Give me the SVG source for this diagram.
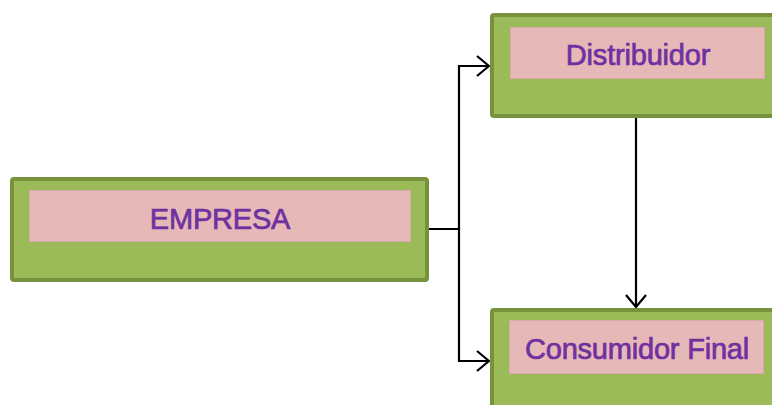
<svg xmlns="http://www.w3.org/2000/svg" width="772" height="405" viewBox="0 0 772 405">
<style>
.box{fill:#9BBB59;stroke:#76923C;stroke-width:4}
.lab{fill:#E6B8B7;stroke:#D9A8A8;stroke-width:1}
.t{font-family:"Liberation Sans",Arial,sans-serif;font-size:29px;fill:#7030A0;stroke:#7030A0;stroke-width:0.7;text-anchor:middle;letter-spacing:-0.2px}
.c{fill:none;stroke:#000;stroke-width:2.2}
</style>
<defs>
<marker id="arr" viewBox="0 0 14 22" refX="13" refY="11" markerWidth="14" markerHeight="22" markerUnits="userSpaceOnUse" orient="auto">
<path d="M1,1 L13,11 L1,21" fill="none" stroke="#000" stroke-width="2.2"/>
</marker>
</defs>
<g id="connectors">
<path class="c" d="M429,229 H459 V66 H489" marker-end="url(#arr)"/>
<path class="c" d="M459,229 V361 H489" marker-end="url(#arr)"/>
<path class="c" d="M636,118 V307" marker-end="url(#arr)"/>
</g>
<g id="empresa">
<rect class="box" x="12" y="179" width="415" height="101" rx="2"/>
<rect class="lab" x="29.5" y="190.5" width="381" height="51"/>
<text class="t" x="220" y="229">EMPRESA</text>
</g>
<g id="distribuidor">
<rect class="box" x="492" y="15" width="415" height="101" rx="2"/>
<rect class="lab" x="510.5" y="27.5" width="254" height="51"/>
<text class="t" x="638" y="65">Distribuidor</text>
</g>
<g id="consumidor">
<rect class="box" x="492" y="310" width="415" height="101" rx="2"/>
<rect class="lab" x="509.5" y="320.5" width="254" height="53"/>
<text class="t" x="637" y="359">Consumidor Final</text>
</g>
</svg>
